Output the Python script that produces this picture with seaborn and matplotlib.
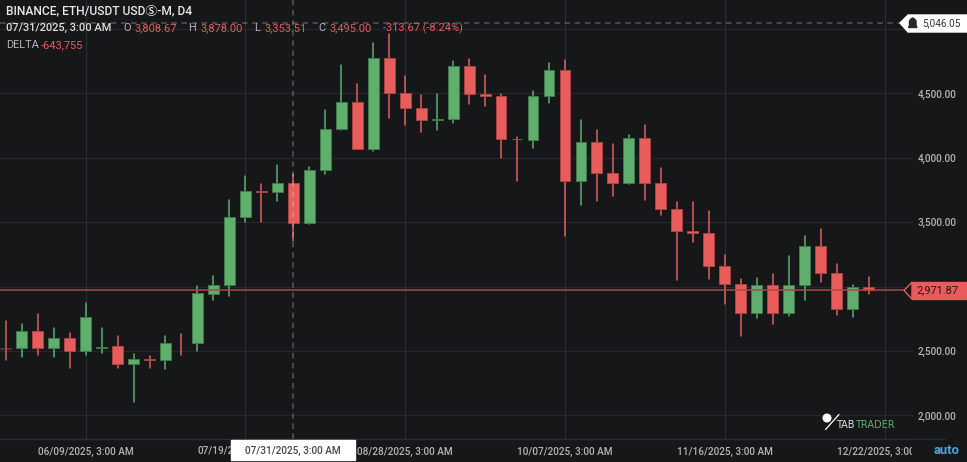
import matplotlib
matplotlib.use("Agg")
import matplotlib.pyplot as plt
import pandas as pd
import seaborn as sns
from matplotlib.patches import Ellipse, Polygon, Rectangle
from matplotlib.lines import Line2D

W, H = 967, 462
BG = "#151718"
GREEN = "#5fae6e"
RED = "#e85c5c"
GREY = "#b4b5b6"

# candles
opens = [2524, 2522, 2656, 2522, 2604, 2503, 2526, 2540, 2400, 2441, 2431, 2550, 2565, 2946,
         3011, 3543, 3743, 3738, 3808.67, 3495, 3906, 4222, 4436, 4071, 4778, 4504, 4390, 4294,
         4304, 4713, 4498, 4480, 4149, 4139, 4480, 4682, 3818, 4123, 3885, 3803, 4157, 3803,
         3601, 3432, 3415, 3163, 3021, 2796, 3011, 2793, 3015, 3314, 3109, 2829, 2994]
highs = [2734, 2710, 2788, 2677, 2638, 2876, 2677, 2617, 2477, 2462, 2617, 2633, 3005, 3083,
         3673, 3859, 3797, 3945, 3878, 3927, 4372, 4721, 4574, 4890, 4962, 4636, 4491, 4496,
         4752, 4770, 4644, 4496, 4160, 4519, 4737, 4758, 4294, 4217, 4108, 4178, 4253, 3919,
         3655, 3655, 3588, 3246, 3060, 3068, 3098, 3238, 3396, 3446, 3176, 3013, 3075]
lows = [2431, 2452, 2470, 2456, 2371, 2470, 2483, 2371, 2105, 2369, 2361, 2467, 2501, 2897,
        2928, 3502, 3502, 3668, 3353.51, 3487, 3875, 4217, 4067, 4056, 4310, 4253, 4203, 4217,
        4273, 4418, 4403, 3999, 3820, 4077, 4428, 3394, 3637, 3668, 3704, 3795, 3673, 3554,
        3052, 3349, 3062, 2868, 2615, 2759, 2713, 2775, 2899, 3036, 2782, 2767, 2941]
closes = [2519, 2656, 2522, 2604, 2503, 2762, 2534, 2400, 2441, 2433, 2565, 2550, 2949, 3011,
          3543, 3743, 3737, 3808, 3495, 3906, 4222, 4436, 4071, 4778, 4504, 4390, 4294, 4304,
          4713, 4498, 4478, 4149, 4143, 4480, 4682, 3818, 4123, 3885, 3803, 4157, 3803, 3601,
          3432, 3417, 3163, 3021, 2796, 3011, 2793, 3015, 3314, 3109, 2829, 2998, 2971.87]
rising = [0, 1, 0, 1, 0, 1, 1, 0, 1, 0, 1, 0, 1, 1, 1, 1, 0, 1, 0, 1, 1, 1, 0, 1, 0, 0, 0, 1,
          1, 0, 0, 0, 0, 1, 1, 0, 1, 0, 0, 1, 0, 0, 0, 0, 0, 0, 0, 1, 0, 1, 1, 0, 0, 1, 0]

price_ticks = [2000, 2500, 3000, 3500, 4000, 4500, 5000]
price_labels = ["2,000.00", "2,500.00", "", "3,500.00", "4,000.00", "4,500.00", ""]
date_ticks = [5, 15, 25, 35, 45, 55]
date_labels = ["06/09/2025, 3:00 AM", "", "08/28/2025, 3:00 AM",
               "10/07/2025, 3:00 AM", "11/16/2025, 3:00 AM", "12/22/2025, 3:00 AM"]
alert_price = 5046.05
last_price = 2971.87
cursor = 18

sns.set_theme(style="darkgrid", rc={"figure.facecolor": BG, "axes.facecolor": BG})
plt.rcParams["font.family"] = ["Roboto", "Noto Sans CJK JP", "DejaVu Sans"]


def px(x, y):
    return x / W, 1 - y / H


def fs(pixels):
    return pixels * 0.72


fig = plt.figure(figsize=(W / 100, H / 100), dpi=100)
ax = fig.add_axes([0, 1 - 439 / H, 913 / W, 439 / H])

# wicks
rows = []
for i in range(len(opens)):
    rows.append({"i": i, "price": highs[i], "up": rising[i]})
    rows.append({"i": i, "price": lows[i], "up": rising[i]})
wicks = pd.DataFrame(rows)
sns.lineplot(data=wicks, x="i", y="price", hue="up", units="i", estimator=None,
             palette={0: RED, 1: GREEN}, linewidth=1.1, legend=False, ax=ax, zorder=2)

# bodies
for i in range(len(opens)):
    if opens[i] == closes[i]:
        continue
    low_side = min(opens[i], closes[i])
    c = GREEN if rising[i] else RED
    edge = "#3f7a4c" if rising[i] else "#a84646"
    # the first candle is cut by the left edge and its body is barely visible
    sns.barplot(x=[i], y=[abs(closes[i] - opens[i])], bottom=low_side, orient="x",
                native_scale=True, width=0.68, color=c, saturation=1, linewidth=0.7,
                edgecolor=edge, alpha=0.35 if i == 0 else 1, ax=ax, zorder=3)

ax.set_xlim(-0.357, 56.78)
ax.set_ylim(1817.5, 5225.9)
ax.set_xlabel("")
ax.set_ylabel("")

ax.set_yticks(price_ticks, price_labels)
ax.set_xticks(date_ticks, date_labels)
ax.yaxis.tick_right()
ax.tick_params(axis="y", length=0, pad=3.3, labelsize=fs(10), labelcolor=GREY)
ax.tick_params(axis="x", length=0, pad=6, labelsize=fs(10), labelcolor=GREY)
for lab in ax.get_xticklabels() + ax.get_yticklabels():
    lab.set_fontweight("medium")
ax.grid(True, axis="y", color="#25272a", linewidth=0.9)
ax.grid(True, axis="x", color="#2b2d33", linewidth=0.9)
ax.set_axisbelow(True)
for s in ["top", "left", "right"]:
    ax.spines[s].set_visible(False)
ax.spines["bottom"].set_color("#2b2d30")
ax.spines["bottom"].set_linewidth(1)

ax.axvline(cursor, color="white", alpha=0.27, linewidth=1.1, dashes=(3.6, 3), zorder=4)
ax.axhline(alert_price, color="white", alpha=0.27, linewidth=1.1, dashes=(3.6, 3), zorder=1)
ax.axhline(last_price, color="#a84848", linewidth=1.1, zorder=4)

# bottom strip
fig.add_artist(Line2D([913 / W, 945 / W], [1 - 439 / H] * 2, color="#2b2d30", linewidth=1))
fig.add_artist(Rectangle(px(912, 460), 55 / W, 20 / H, color=BG, zorder=3))
fig.text(*px(198, 451), "07/19/2", color=GREY, fontsize=fs(10), va="center",
         fontweight="medium", zorder=2)
fig.add_artist(Rectangle(px(231, 460), 124 / W, 20 / H, color="white", zorder=3))
fig.text(*px(293, 451), "07/31/2025, 3:00 AM", color="#44464a", fontsize=fs(10),
         ha="center", va="center", fontweight="medium", zorder=4)
fig.text(*px(947, 451), "auto", color="#4fa3d8", fontsize=fs(13), ha="center", va="center",
         fontweight="bold", zorder=4)

# alert tag
fig.add_artist(Polygon([px(900, 23), px(908, 15), px(967, 15), px(967, 32), px(908, 32)],
                       closed=True, color="white", zorder=3))
fig.add_artist(Polygon([px(908.5, 27.5), px(909.5, 25.5), px(909.5, 21), px(911, 19), px(912.7, 18),
                        px(914.5, 19), px(916, 21), px(916, 25.5), px(917, 27.5)],
                       closed=True, color="#26282b", zorder=4))
fig.text(*px(960.7, 23.5), "5,046.05", color="#33363a", fontsize=fs(10), ha="right", va="center",
         zorder=4)

# last price tag
fig.add_artist(Polygon([px(904, 290.5), px(912, 282), px(912, 299)], closed=True,
                       facecolor=BG, edgecolor=RED, linewidth=1, zorder=3))
fig.add_artist(Rectangle(px(911.5, 298.7), 56 / W, 16.7 / H, color=RED, zorder=3))
fig.text(*px(958, 290.5), "2,971.87", color="#2a1416", fontsize=fs(11), ha="right",
         va="center", zorder=4)

# logo
fig.add_artist(Ellipse(px(827, 418), 7.6 / W, 7.6 / H, color="white", zorder=3,
                       transform=fig.transFigure))
fig.add_artist(Line2D([839 / W, 825.5 / W], [1 - 414.5 / H, 1 - 429.5 / H], color="white",
                      linewidth=0.9, zorder=3))
fig.text(*px(836, 425.5), "TAB", color="#e4e4e4", fontsize=fs(9.8), va="center", zorder=4,
         family="DejaVu Sans")
fig.text(*px(855, 425.5), "TRADER", color=GREEN, fontsize=fs(9.8), va="center", zorder=4,
         family="DejaVu Sans")

# header
fig.text(*px(6, 11), "BINANCE, ETH/USDT USDⓈ-M, D4", color="#e8e8e8", fontsize=fs(12),
         va="center", fontweight="medium", zorder=4)
fig.text(*px(6, 28), "07/31/2025, 3:00 AM", color="#dcdcdc", fontsize=fs(11), va="center",
         fontweight="medium", zorder=4)
for x, s, c in [(123, "O", GREY), (134, "3,808.67", RED), (188, "H", GREY), (200, "3,878.00", RED),
                (254, "L", GREY), (264, "3,353.51", RED), (318, "C", GREY), (329, "3,495.00", RED),
                (383, "-313.67 (-8.24%)", RED)]:
    fig.text(*px(x, 28), s, color=c, fontsize=fs(11), va="center", zorder=4)
fig.text(*px(6, 45), "DELTA", color=GREY, fontsize=fs(11), va="center", zorder=4)
fig.text(*px(41, 45), "-643,755", color=RED, fontsize=fs(11), va="center", zorder=4)

fig.savefig("out.png", dpi=100, facecolor=BG)
